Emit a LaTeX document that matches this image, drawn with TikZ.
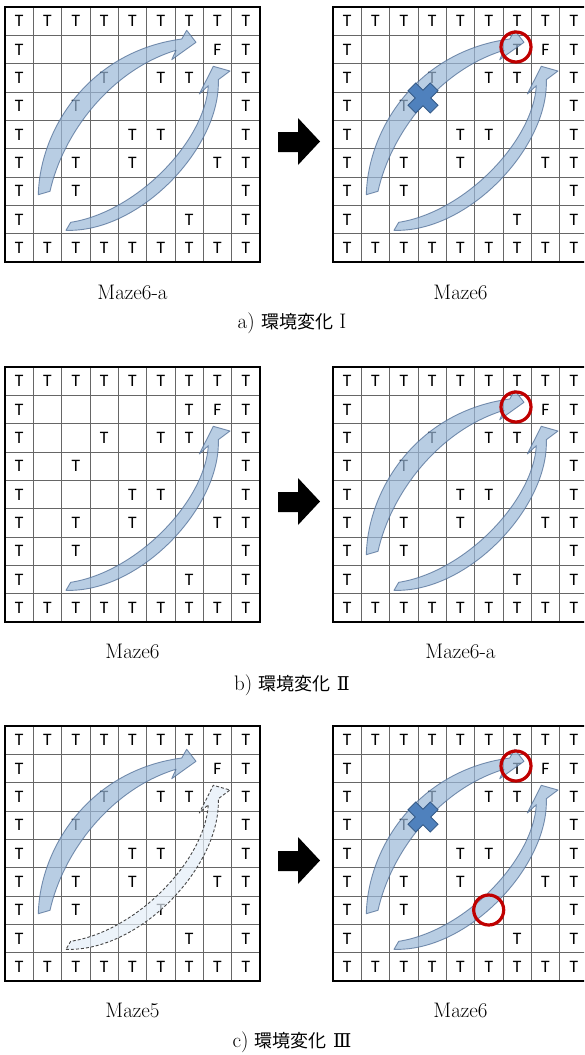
\documentclass[tikz,border=0pt]{standalone}
\usepackage{fontspec}
\newfontfamily\tfont{Carlito}
\newfontfamily\cjk{Noto Sans CJK JP}
\newfontfamily\romnum{DejaVu Serif}
\definecolor{arrfill}{RGB}{155,184,216}
\definecolor{arrline}{RGB}{80,110,150}
\definecolor{dashfill}{RGB}{228,238,248}
\definecolor{dashline}{RGB}{70,70,70}
\definecolor{xfill}{RGB}{79,129,189}
\definecolor{xline}{RGB}{56,93,138}
\definecolor{ringred}{RGB}{192,0,0}
\def\cs{28.33}
\tikzset{
  gridline/.style={draw=black!60, line width=0.8pt},
  border/.style={draw=black, line width=1.8pt},
  tl/.style={font=\tfont\fontsize{17.5}{19}\selectfont, inner sep=0pt},
  lbl/.style={font=\fontsize{21}{25}\selectfont, inner sep=0pt, anchor=base},
  solidarrow/.style={fill=arrfill, draw=arrline, fill opacity=0.7, draw opacity=0.75, line width=0.9pt, line join=round},
  dasharrow/.style={fill=dashfill, draw=dashline, fill opacity=0.7, line width=0.9pt, dash pattern=on 3pt off 2pt, line join=round},
  xmark/.style={fill=xfill, draw=xline, line width=0.9pt, line join=miter},
  ring/.style={draw=ringred, line width=3.2pt},
  blockarrow/.style={fill=black}
}
\newcommand\mazegrid[4]{%
 \begin{scope}[shift={(#2,#3)}]
  \foreach \k in {1,...,8}{
    \draw[gridline] ({\k*\cs},0) -- ({\k*\cs},{9*\cs});
    \draw[gridline] (0,{\k*\cs}) -- ({9*\cs},{\k*\cs});
  }
  \draw[border] (0,0) rectangle ({9*\cs},{9*\cs});
  \foreach \k in {0,...,8}{
    \node[tl] (#1-top-\k) at ({(\k+0.5)*\cs},{0.5*\cs}) {T};
    \node[tl] (#1-bot-\k) at ({(\k+0.5)*\cs},{8.5*\cs}) {T};
  }
  \foreach \k in {1,...,7}{
    \node[tl] (#1-lft-\k) at ({0.5*\cs},{(\k+0.5)*\cs}) {T};
    \node[tl] (#1-rgt-\k) at ({8.5*\cs},{(\k+0.5)*\cs}) {T};
  }
  \foreach \c/\r in {#4}{
    \node[tl] (#1-in-\c-\r) at ({(\c+0.5)*\cs},{(\r+0.5)*\cs}) {T};
  }
  \node[tl] (#1-goal) at ({7.5*\cs},{1.5*\cs}) {F};
 \end{scope}}
\newcommand\arcA[1]{\path[#1] (33.3,187.7) .. controls (35,120) and (86,44) .. (176.7,32) -- (181.7,23.3) -- (191,35.3) -- (166.7,52.7) -- (171,43.3) .. controls (106,63) and (58,126) .. (45,184.3) -- cycle;}
\newcommand\arcB[1]{\path[#1] (61,223.3) .. controls (135,226) and (216,140) .. (213.3,72.7) -- (225,64) -- (208.3,59.3) -- (194.3,87) -- (203.3,78.7) .. controls (200,134) and (132,205) .. (65.7,215.3) -- cycle;}
\newcommand\xcross[2]{\begin{scope}[shift={(#1,#2)}, rotate=45]
  \path[xmark] (-15.7,-5.5) -- (-5.5,-5.5) -- (-5.5,-15.7) -- (5.5,-15.7) -- (5.5,-5.5) -- (15.7,-5.5) -- (15.7,5.5) -- (5.5,5.5) -- (5.5,15.7) -- (-5.5,15.7) -- (-5.5,5.5) -- (-15.7,5.5) -- cycle;
 \end{scope}}
\newcommand\bigarrow[1]{\path[blockarrow] (278,#1+125) -- (298,#1+125) -- (298,#1+111) -- (320,#1+134.5) -- (298,#1+158) -- (298,#1+145) -- (278,#1+145) -- cycle;}
\begin{document}
\begin{tikzpicture}[x=1pt,y=-1pt]
\useasboundingbox (0,0) rectangle (584,1055);
\clip (0,0) rectangle (584,1055);
\fill[white] (0,0) rectangle (584,1055);
% ---------------- panel a
\mazegrid{al}{5}{7}{3/2,5/2,6/2,2/3,4/4,5/4,2/5,4/5,7/5,2/6,6/7}
\mazegrid{ar}{333}{7}{6/1,3/2,5/2,6/2,2/3,4/4,5/4,2/5,4/5,7/5,2/6,6/7}
\begin{scope}[shift={(5,7)}]\arcA{solidarrow}\arcB{solidarrow}\end{scope}
\begin{scope}[shift={(333,7)}]\arcA{solidarrow}\arcB{solidarrow}
  \xcross{90}{91}
  \draw[ring] (183,40) circle[radius=15];
\end{scope}
\bigarrow{7}
\node[lbl] (la1) at (132.5,299) {Maze6-a};
\node[lbl] (la2) at (460.5,299) {Maze6};
\node[lbl] (capa) at (292,328.5) {a) {\cjk\fontsize{18}{20}\selectfont 環境変化} I};
% ---------------- panel b
\mazegrid{bl}{5}{367}{6/1,3/2,5/2,6/2,2/3,4/4,5/4,2/5,4/5,7/5,2/6,6/7}
\mazegrid{br}{333}{367}{3/2,5/2,6/2,2/3,4/4,5/4,2/5,4/5,7/5,2/6,6/7}
\begin{scope}[shift={(5,367)}]\arcB{solidarrow}\end{scope}
\begin{scope}[shift={(333,367)}]\arcA{solidarrow}\arcB{solidarrow}
  \draw[ring] (183,40) circle[radius=15];
\end{scope}
\bigarrow{367}
\node[lbl] (lb1) at (132.5,658) {Maze6};
\node[lbl] (lb2) at (460.5,658) {Maze6-a};
\node[lbl] (capb) at (292,690) {b) {\cjk\fontsize{18}{20}\selectfont 環境変化} {\romnum\fontsize{19}{22}\selectfont Ⅱ}};
% ---------------- panel c
\mazegrid{cl}{5}{726}{3/2,5/2,6/2,2/3,4/4,5/4,2/5,4/5,7/5,2/6,5/6,6/7}
\mazegrid{cr}{333}{726}{6/1,3/2,5/2,6/2,2/3,4/4,5/4,2/5,4/5,7/5,2/6,6/7}
\begin{scope}[shift={(5,726)}]\arcA{solidarrow}\arcB{dasharrow}\end{scope}
\begin{scope}[shift={(333,726)}]\arcA{solidarrow}\arcB{solidarrow}
  \xcross{90}{91}
  \draw[ring] (183,40) circle[radius=15];
  \draw[ring] (155.7,184) circle[radius=15];
\end{scope}
\bigarrow{726}
\node[lbl] (lc1) at (132.5,1017) {Maze5};
\node[lbl] (lc2) at (460.5,1017) {Maze6};
\node[lbl] (capc) at (292,1047) {c) {\cjk\fontsize{18}{20}\selectfont 環境変化} {\romnum\fontsize{19}{22}\selectfont Ⅲ}};
\end{tikzpicture}
\end{document}
